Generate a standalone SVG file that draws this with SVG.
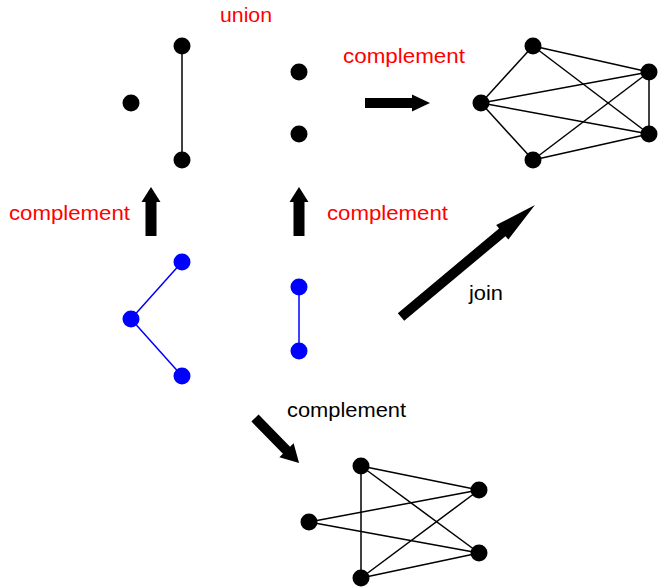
<svg xmlns="http://www.w3.org/2000/svg" width="658" height="588" viewBox="0 0 658 588">
<style>
.lbl{font-family:"Liberation Sans",Arial,sans-serif;font-size:20px}
.red{fill:#ff0000}
.blk{fill:#000000}
.e{stroke:#000;stroke-width:1.5;fill:none}
.eb{stroke:#0000ff;stroke-width:1.5;fill:none}
.n{fill:#000}
.nb{fill:#0000ff}
.arr{fill:#000}
</style>
<rect width="658" height="588" fill="#fff"/>
<g id="connectors">
  <g id="arrow-union-complement" transform="translate(365,103)"><polygon class="arr" points="0,-5 47,-5 47,-8.5 65,0 47,8.5 47,5 0,5"/></g>
  <g id="arrow-left-up" transform="translate(151,236) rotate(-90)"><polygon class="arr" points="0,-5.5 34,-5.5 34,-9.5 49,0 34,9.5 34,5.5 0,5.5"/></g>
  <g id="arrow-right-up" transform="translate(299,236) rotate(-90)"><polygon class="arr" points="0,-5.5 34,-5.5 34,-9.5 49,0 34,9.5 34,5.5 0,5.5"/></g>
  <g id="arrow-join" transform="translate(401,317) rotate(-39.9)"><polygon class="arr" points="0,-5 132,-5 132,-9.5 174.6,0 132,9.5 132,5 0,5"/></g>
  <g id="arrow-down" transform="translate(255,418) rotate(45.6)"><polygon class="arr" points="0,-5 45,-5 45,-10 63,0 45,10 45,5 0,5"/></g>
</g>
<g id="labels">
  <text class="lbl red" x="220" y="22" textLength="52" lengthAdjust="spacingAndGlyphs">union</text>
  <text class="lbl red" x="343" y="63" textLength="122" lengthAdjust="spacingAndGlyphs">complement</text>
  <text class="lbl red" x="9" y="220" textLength="121" lengthAdjust="spacingAndGlyphs">complement</text>
  <text class="lbl red" x="327" y="220" textLength="121" lengthAdjust="spacingAndGlyphs">complement</text>
  <text class="lbl blk" x="469" y="300" textLength="34" lengthAdjust="spacingAndGlyphs">join</text>
  <text class="lbl blk" x="287" y="417" textLength="119" lengthAdjust="spacingAndGlyphs">complement</text>
</g>
<g id="graph-union">
  <line class="e" x1="182" y1="46" x2="182" y2="160"/>
  <circle class="n" cx="131" cy="103" r="8.5"/>
  <circle class="n" cx="182" cy="46" r="8.5"/>
  <circle class="n" cx="182" cy="160" r="8.5"/>
  <circle class="n" cx="299" cy="72" r="8.5"/>
  <circle class="n" cx="299" cy="134" r="8.5"/>
</g>
<g id="graph-complement-top">
  <line class="e" x1="533" y1="46" x2="481" y2="103"/>
  <line class="e" x1="533" y1="46" x2="649" y2="72"/>
  <line class="e" x1="533" y1="46" x2="649" y2="134"/>
  <line class="e" x1="481" y1="103" x2="649" y2="72"/>
  <line class="e" x1="481" y1="103" x2="649" y2="134"/>
  <line class="e" x1="481" y1="103" x2="533" y2="160"/>
  <line class="e" x1="533" y1="160" x2="649" y2="72"/>
  <line class="e" x1="533" y1="160" x2="649" y2="134"/>
  <line class="e" x1="649" y1="72" x2="649" y2="134"/>
  <circle class="n" cx="533" cy="46" r="8.5"/>
  <circle class="n" cx="481" cy="103" r="8.5"/>
  <circle class="n" cx="533" cy="160" r="8.5"/>
  <circle class="n" cx="649" cy="72" r="8.5"/>
  <circle class="n" cx="649" cy="134" r="8.5"/>
</g>
<g id="graph-blue-path">
  <line class="eb" x1="131" y1="319" x2="182" y2="262"/>
  <line class="eb" x1="131" y1="319" x2="182" y2="376"/>
  <circle class="nb" cx="131" cy="319" r="8.5"/>
  <circle class="nb" cx="182" cy="262" r="8.5"/>
  <circle class="nb" cx="182" cy="376" r="8.5"/>
</g>
<g id="graph-blue-edge">
  <line class="eb" x1="299" y1="287" x2="299" y2="351"/>
  <circle class="nb" cx="299" cy="287" r="8.5"/>
  <circle class="nb" cx="299" cy="351" r="8.5"/>
</g>
<g id="graph-complement-bottom">
  <line class="e" x1="361" y1="466" x2="479" y2="490"/>
  <line class="e" x1="361" y1="466" x2="479" y2="553"/>
  <line class="e" x1="361" y1="466" x2="361" y2="578"/>
  <line class="e" x1="309" y1="522" x2="479" y2="490"/>
  <line class="e" x1="309" y1="522" x2="479" y2="553"/>
  <line class="e" x1="361" y1="578" x2="479" y2="490"/>
  <line class="e" x1="361" y1="578" x2="479" y2="553"/>
  <circle class="n" cx="361" cy="466" r="8.5"/>
  <circle class="n" cx="479" cy="490" r="8.5"/>
  <circle class="n" cx="309" cy="522" r="8.5"/>
  <circle class="n" cx="479" cy="553" r="8.5"/>
  <circle class="n" cx="361" cy="578" r="8.5"/>
</g>
</svg>
